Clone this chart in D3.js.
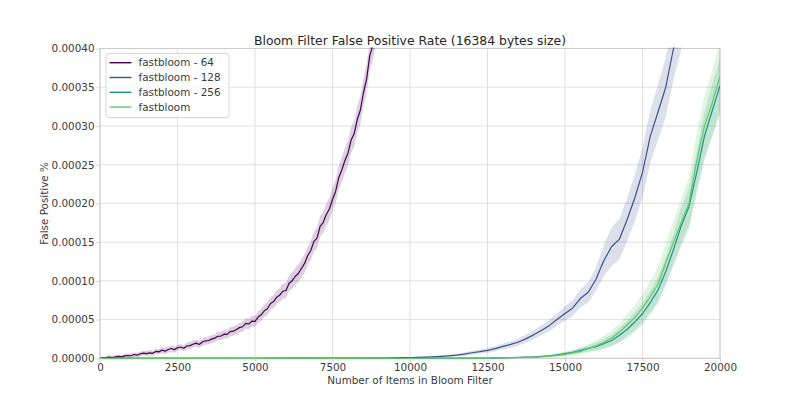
<!DOCTYPE html>
<html>
<head>
<meta charset="utf-8">
<script src="https://cdn.jsdelivr.net/npm/d3@7"></script>
<style>
  html, body { margin: 0; padding: 0; background: #fff; }
  svg { display: block; font-family: "DejaVu Sans", sans-serif; }
</style>
</head>
<body>
<svg id="chart" width="800" height="403"></svg>
<script>
// ---- Data (false-positive values are in millionths, i.e. x 1e-6) ----
const UNIT = 1e-6;

const seriesNames = ["fastbloom - 64", "fastbloom - 128", "fastbloom - 256", "fastbloom"];

const items64 = [0,100,200,300,400,500,600,700,800,900,1000,1100,1200,1300,1400,1500,1600,1700,1800,1900,
  2000,2100,2200,2300,2400,2500,2600,2700,2800,2900,3000,3100,3200,3300,3400,3500,3600,3700,3800,3900,
  4000,4100,4200,4300,4400,4500,4600,4700,4800,4900,5000,5100,5200,5300,5400,5500,5600,5700,5800,5900,
  6000,6100,6200,6300,6400,6500,6600,6700,6800,6900,7000,7100,7200,7300,7400,7500,7600,7700,7800,7900,
  8000,8100,8200,8300,8400,8500,8600,8700,8800,8900,9000];
const fp64 = [0.3,0.6,0.9,1.5,1.0,1.9,2.5,1.8,3.2,3.6,3.3,4.9,4.0,5.8,6.6,6.0,7.1,6.4,8.9,8.3,
  10.6,9.2,11.4,12.6,11.2,13.6,14.6,12.9,15.9,16.4,18.1,19.6,17.8,21.0,22.6,22.9,24.8,26.0,28.5,28.7,
  31.2,30.9,34.4,35.0,37.1,39.6,40.8,45.1,44.3,48.0,47.6,53.2,56.1,61.4,63.9,70.8,73.2,78.9,81.7,86.6,
  87.5,96.8,100.2,105.9,109.4,116.3,122.5,132.8,139.2,150.9,155.1,170.2,175.3,185.6,192.8,205.1,215.4,233.0,243.2,255.4,
  264.8,281.6,290.1,308.3,320.6,343.2,360.5,390.1,404.2,423.5,440.0];
const spread64 = [0.5,1,1.5,2,2,2.5,2.5,2.5,2.5,3,3,3,3,3,3,3.5,3.5,3.5,3.5,3.5,
  4,4,4,4,4,4,4,4,4.5,4.5,4.5,4.5,4.5,5,5,5,5,5,5,5.5,
  5.5,5.5,6,6,6,6,6.5,6.5,7,7,7,7.5,7.5,8,8,8.5,8.5,9,9,9.5,
  10,10,10.5,11,11,11.5,12,12,12.5,13,13,13.5,14,14,14.5,15,15,15.5,16,16,
  16.5,17,17,17.5,18,18,18.5,19,19,19.5,20];

const items128 = [0,3000,6000,8000,9000,9250,9500,9750,10000,10250,10500,10750,11000,11250,11500,11750,
  12000,12250,12500,12750,13000,13250,13500,13750,14000,14250,14500,14750,15000,15250,15500,15750,
  16000,16250,16500,16750,17000,17250,17500,17750,18000,18250,18500,18750];
const fp128 = [0,0,0.1,0.2,0.3,0.4,0.6,0.8,1.0,1.1,1.4,1.9,2.6,3.2,4.0,5.4,
  7.2,8.6,10.3,12.5,15.3,17.9,21.0,25.4,30.6,36.2,42.5,50.3,57.8,65.0,77.5,85.2,
  102.0,126.0,144.0,153.5,178.5,207.0,240.0,286.5,318.0,350.0,400.0,440.0];
const spread128 = [0,0,0.2,0.3,0.4,0.5,0.6,0.7,0.8,0.9,1.0,1.2,1.4,1.6,1.8,2.0,
  2.4,2.7,3.0,3.4,3.8,4.2,4.6,5.2,5.8,6.5,7.2,8.0,9.0,10.0,11.5,13.0,
  15.0,20.0,25.0,26.0,28.0,30.0,32.0,34.0,36.0,38.0,40.0,42.0];

const items256 = [0,4000,8000,10000,12000,12500,13000,13500,14000,14250,14500,14750,15000,15250,15500,15750,
  16000,16250,16500,16750,17000,17250,17500,17750,18000,18250,18500,18750,19000,19250,19500,19750,20000];
const fp256 = [0,0,0,0.05,0.1,0.3,0.6,1.1,1.8,2.4,3.3,4.6,6.0,7.8,10.2,12.9,
  15.1,18.8,23.0,29.5,37.2,46.8,57.5,72.0,88.0,112.0,140.5,171.0,196.0,240.0,287.0,320.0,352.0];
const spread256 = [0,0,0,0.1,0.2,0.3,0.5,0.7,0.9,1.1,1.4,1.8,2.2,2.8,3.5,4.2,
  5.0,6.0,7.5,9.5,11.0,12.5,14.0,15.5,17.0,19.0,21.0,23.0,25.0,28.0,31.0,34.0,36.0];

const itemsFB = [0,4000,8000,10000,12000,12500,13000,13500,14000,14250,14500,14750,15000,15250,15500,15750,
  16000,16250,16500,16750,17000,17250,17500,17750,18000,18250,18500,18750,19000,19250,19500,19750,20000];
const fpFB = [0,0,0,0.05,0.2,0.4,0.7,1.0,1.5,2.0,2.8,3.8,5.0,7.0,9.0,12.8,
  16.0,20.5,26.0,33.5,43.0,52.5,65.0,79.5,96.0,123.0,150.0,175.0,200.0,255.0,300.0,330.0,364.0];
const spreadFB = [0,0,0,0.1,0.2,0.3,0.5,0.7,1.0,1.3,1.7,2.2,2.8,3.5,4.5,5.5,
  7.0,8.5,10.0,12.0,14.0,16.0,18.0,20.0,22.0,25.0,28.0,31.0,34.0,37.0,40.0,42.0,44.0];

const colors = ["#440154", "#3b528b", "#21918c", "#5ec962"];

const xTicks = [0, 2500, 5000, 7500, 10000, 12500, 15000, 17500, 20000];
const yTicks = [0, 50, 100, 150, 200, 250, 300, 350, 400]; // millionths

const titleText = "Bloom Filter False Positive Rate (16384 bytes size)";
const xLabel = "Number of Items in Bloom Filter";
const yLabel = "False Positive %";

// ---- Build ----
const series = [
  {name: seriesNames[0], items: items64, fp: fp64, spread: spread64, color: colors[0]},
  {name: seriesNames[1], items: items128, fp: fp128, spread: spread128, color: colors[1]},
  {name: seriesNames[2], items: items256, fp: fp256, spread: spread256, color: colors[2]},
  {name: seriesNames[3], items: itemsFB, fp: fpFB, spread: spreadFB, color: colors[3]},
].map(s => ({...s, pts: s.items.map((n, i) => ({n, v: s.fp[i] * UNIT, lo: Math.max(0, (s.fp[i] - s.spread[i]) * UNIT), hi: (s.fp[i] + s.spread[i]) * UNIT}))}));

const svg = d3.select("#chart");
const M = {left: 100, right: 720, top: 48.5, bottom: 358.3};
const x = d3.scaleLinear().domain([0, 20000]).range([M.left, M.right]);
const y = d3.scaleLinear().domain([0, 400 * UNIT]).range([M.bottom, M.top]);

const textColor = "#3a3a3a";
const gridColor = "#dcdcdc";
const spineColor = "#cccccc";

svg.append("defs").append("clipPath").attr("id", "plotclip")
  .append("rect").attr("x", M.left).attr("y", M.top - 1)
  .attr("width", M.right - M.left).attr("height", M.bottom - M.top + 2);

// grid
const grid = svg.append("g");
grid.selectAll("line.gx").data(xTicks).join("line")
  .attr("x1", d => x(d)).attr("x2", d => x(d)).attr("y1", M.top).attr("y2", M.bottom)
  .attr("stroke", gridColor).attr("stroke-width", 0.9);
grid.selectAll("line.gy").data(yTicks).join("line").attr("class", "gy")
  .attr("x1", M.left).attr("x2", M.right).attr("y1", d => y(d * UNIT)).attr("y2", d => y(d * UNIT))
  .attr("stroke", gridColor).attr("stroke-width", 0.9);

// spines
svg.append("rect").attr("x", M.left).attr("y", M.top)
  .attr("width", M.right - M.left).attr("height", M.bottom - M.top)
  .attr("fill", "none").attr("stroke", spineColor).attr("stroke-width", 1);

// data
const plot = svg.append("g").attr("clip-path", "url(#plotclip)");
const area = d3.area().x(d => x(d.n)).y0(d => y(d.lo)).y1(d => y(d.hi));
const line = d3.line().x(d => x(d.n)).y(d => y(d.v));
series.forEach(s => {
  plot.append("path").datum(s.pts).attr("d", area)
    .attr("fill", s.color).attr("fill-opacity", 0.18).attr("stroke", "none");
});
series.forEach(s => {
  plot.append("path").datum(s.pts).attr("d", line)
    .attr("fill", "none").attr("stroke", s.color).attr("stroke-width", 1.2)
    .attr("stroke-linejoin", "round");
});

// axes
const fs = 10.4;
const xAxis = svg.append("g").attr("transform", `translate(0,${M.bottom})`)
  .call(d3.axisBottom(x).tickValues(xTicks).tickFormat(d3.format("d")).tickSizeInner(3.5).tickSizeOuter(0).tickPadding(2));
const yAxis = svg.append("g").attr("transform", `translate(${M.left},0)`)
  .call(d3.axisLeft(y).tickValues(yTicks.map(t => t * UNIT)).tickFormat(d3.format(".5f")).tickSizeInner(3.5).tickSizeOuter(0).tickPadding(2));
[xAxis, yAxis].forEach(g => {
  g.select(".domain").remove();
  g.selectAll(".tick line").attr("stroke", spineColor);
  g.selectAll(".tick text").attr("fill", textColor).style("font-size", fs + "px")
    .style("font-family", "DejaVu Sans");
});

// title & labels
svg.append("text").attr("x", (M.left + M.right) / 2).attr("y", 45)
  .attr("text-anchor", "middle").attr("fill", "#262626").style("font-size", "12.4px").text(titleText);
svg.append("text").attr("x", (M.left + M.right) / 2).attr("y", 384)
  .attr("text-anchor", "middle").attr("fill", textColor).style("font-size", fs + "px").text(xLabel);
svg.append("text").attr("transform", `translate(48,${(M.top + M.bottom) / 2}) rotate(-90)`)
  .attr("text-anchor", "middle").attr("fill", textColor).style("font-size", fs + "px").text(yLabel);

// legend
const lg = svg.append("g");
lg.append("rect").attr("x", 106).attr("y", 53.5).attr("width", 123).attr("height", 64)
  .attr("rx", 3).attr("fill", "#fff").attr("fill-opacity", 0.8).attr("stroke", "#d6d6d6");
series.forEach((s, i) => {
  const yy = 62.7 + i * 14.8;
  lg.append("line").attr("x1", 109.5).attr("x2", 131.5).attr("y1", yy).attr("y2", yy)
    .attr("stroke", s.color).attr("stroke-width", 1.4);
  lg.append("text").attr("x", 138.5).attr("y", yy + 3.7).attr("fill", textColor)
    .style("font-size", fs + "px").text(s.name);
});
</script>
</body>
</html>
